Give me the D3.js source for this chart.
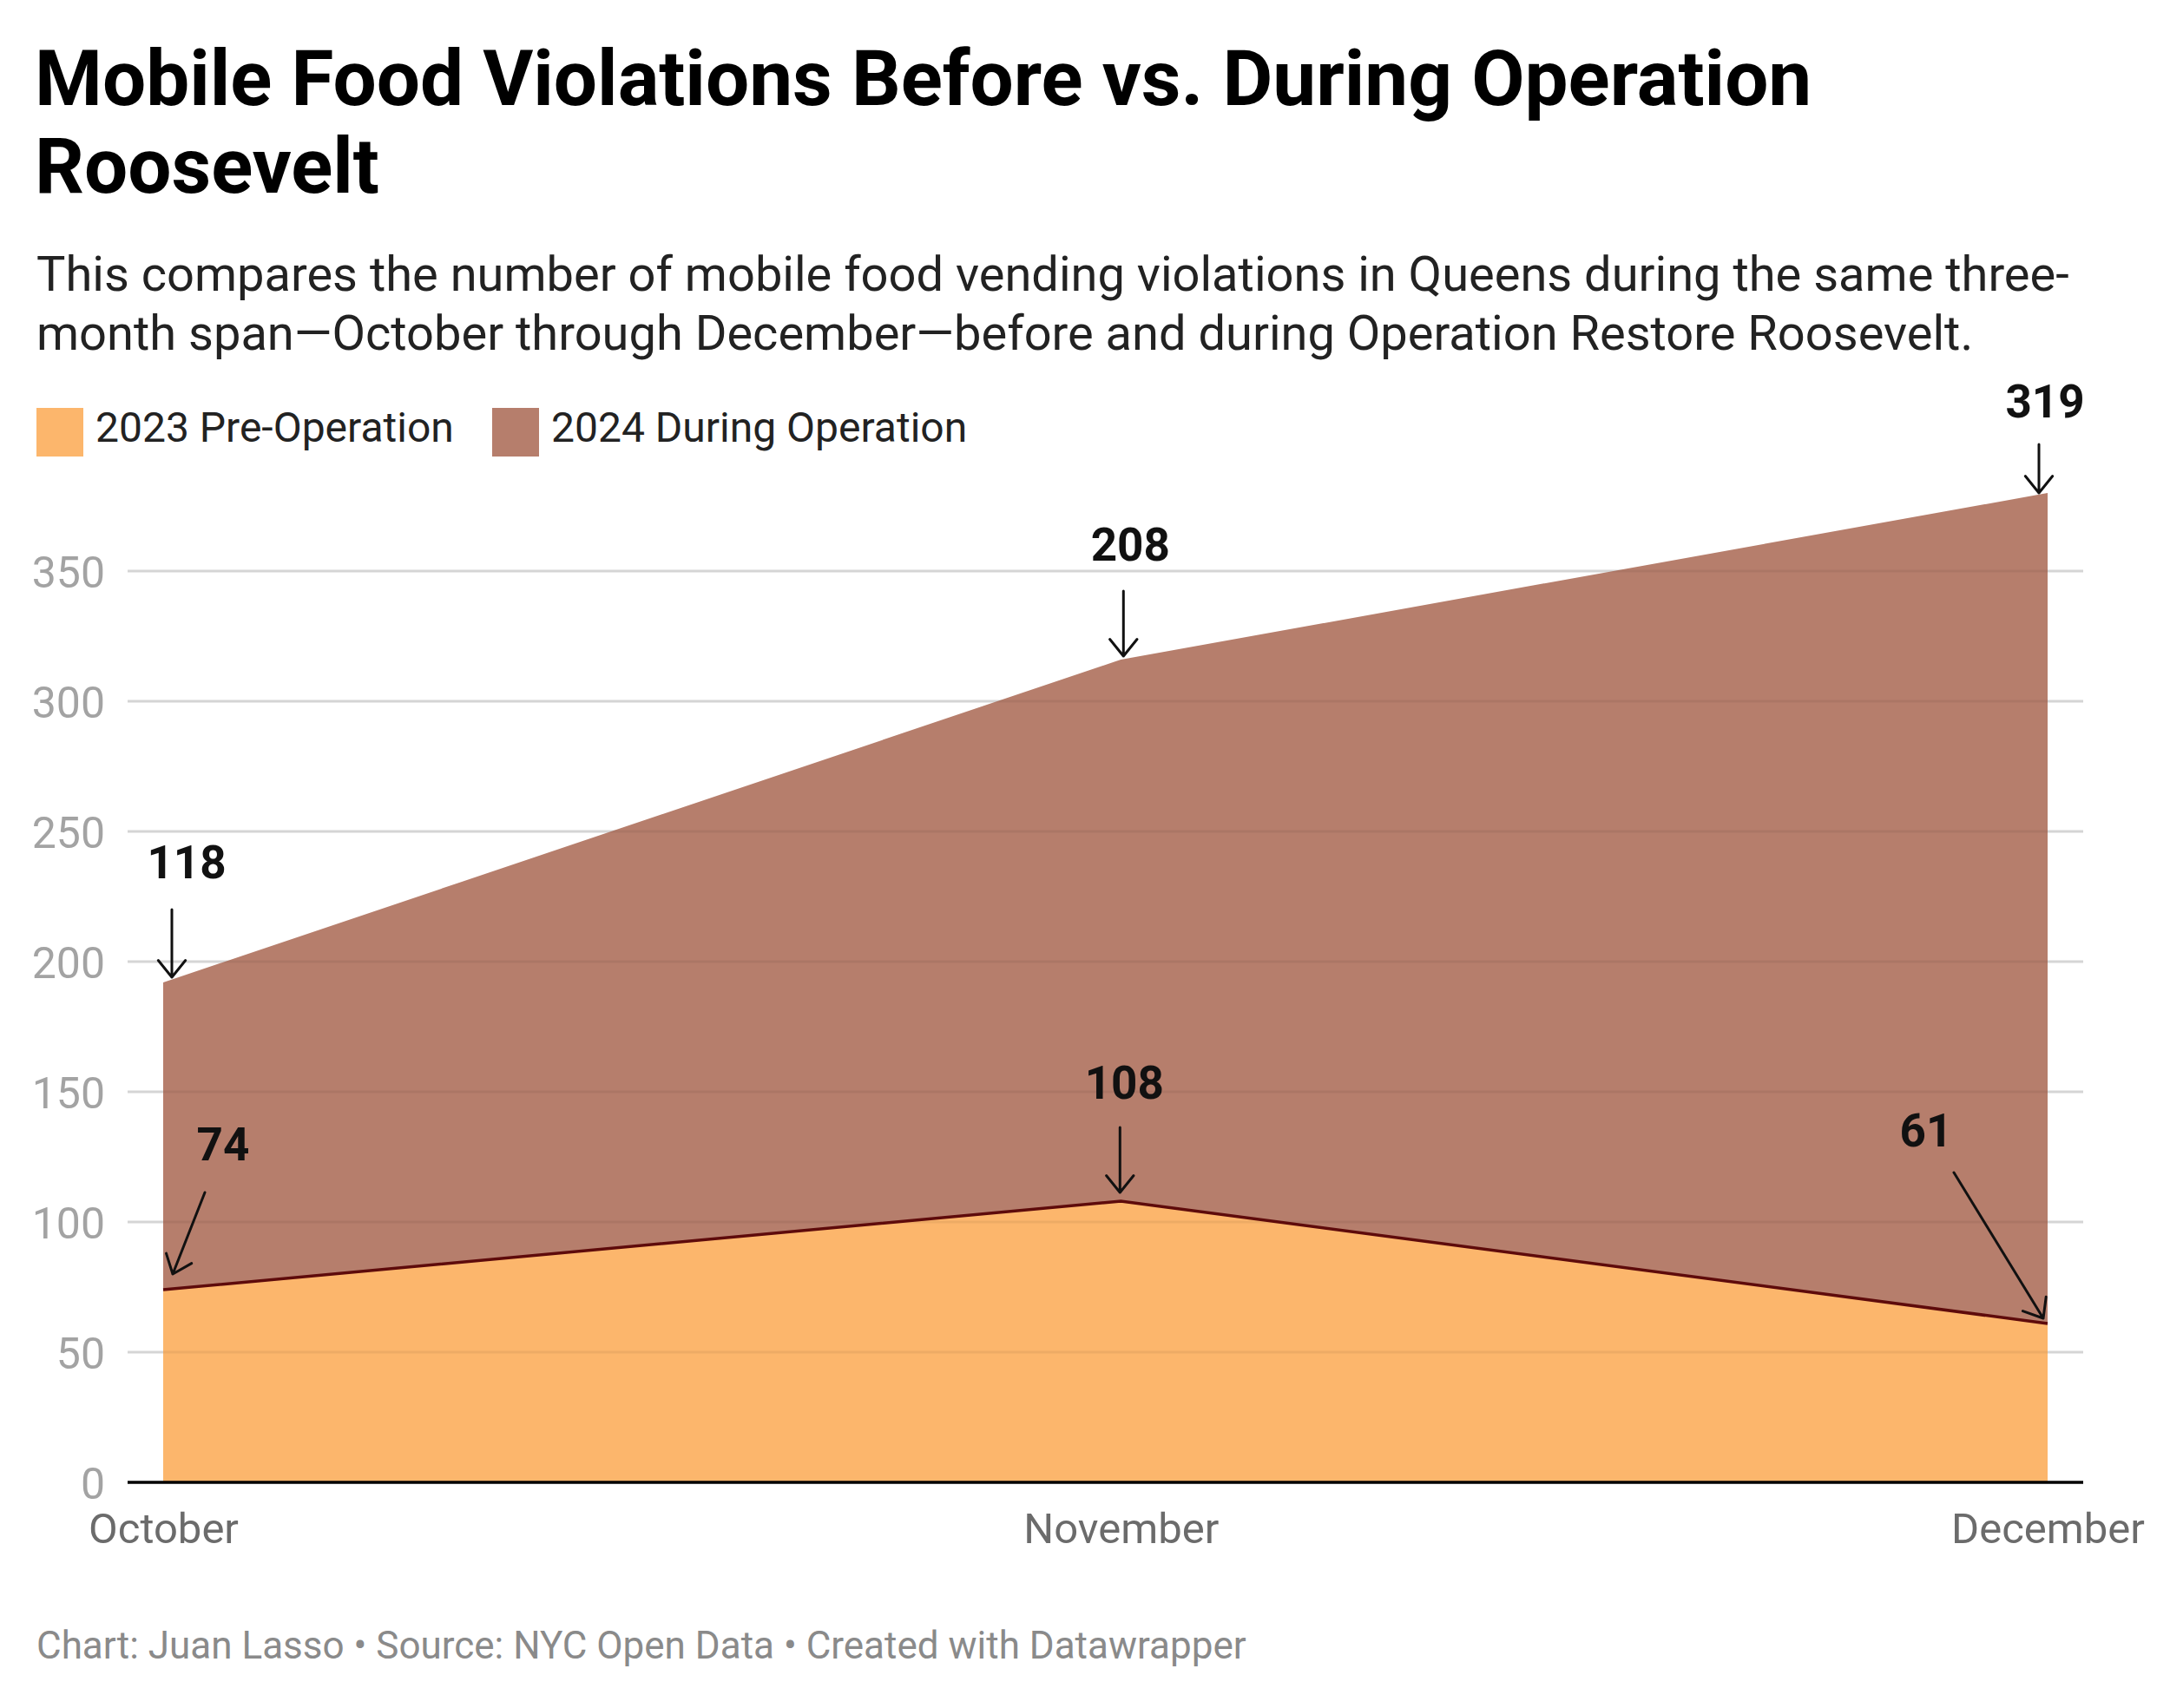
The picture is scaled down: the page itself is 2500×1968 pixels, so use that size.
<!DOCTYPE html>
<html><head><meta charset="utf-8">
<script src="https://cdn.jsdelivr.net/npm/d3@7"></script>
<style>
html,body{margin:0;padding:0;background:#fff;}
svg text{font-family:Roboto,"Noto Sans",sans-serif;}
</style></head>
<body>
<svg id="c" width="2500" height="1968"></svg>
<script>
// ---- data ----
const months = ["October", "November", "December"];
const monthDates = ["2024-10-01", "2024-11-01", "2024-12-01"];
const series2023 = [74, 108, 61];
const series2024 = [118, 208, 319];
const seriesNames = ["2023 Pre-Operation", "2024 During Operation"];
const yTicks = [0, 50, 100, 150, 200, 250, 300, 350];

// ---- layout / style ----
const colors = ["#fcb66c", "#b67e6c"];
const svg = d3.select("#c");
const parse = d3.timeParse("%Y-%m-%d");
const dates = monthDates.map(parse);

const x = d3.scaleTime().domain([dates[0], dates[2]]).range([188, 2359]);
const y = d3.scaleLinear().domain([0, 350]).range([1708, 658]);

// title
svg.append("text").attr("x", 40).attr("y", 121).attr("font-size", 89).attr("font-weight", 700).attr("fill", "#000")
  .text("Mobile Food Violations Before vs. During Operation");
svg.append("text").attr("x", 40).attr("y", 222).attr("font-size", 89).attr("font-weight", 700).attr("fill", "#000")
  .text("Roosevelt");
// subtitle
svg.append("text").attr("x", 42).attr("y", 335).attr("font-size", 56).attr("fill", "#222")
  .text("This compares the number of mobile food vending violations in Queens during the same three-");
svg.append("text").attr("x", 42).attr("y", 403).attr("font-size", 56).attr("fill", "#222")
  .text("month span\u2014October through December\u2014before and during Operation Restore Roosevelt.");

// legend
const legX = [42, 567];
seriesNames.forEach((n, i) => {
  svg.append("rect").attr("x", legX[i]).attr("y", 470).attr("width", 54).attr("height", 56).attr("fill", colors[i]);
  svg.append("text").attr("x", legX[i] + 68).attr("y", 509).attr("font-size", 48).attr("fill", "#222").text(n);
});

// stacked data
const table = dates.map((d, i) => ({date: d, a: series2023[i], b: series2024[i]}));
const stack = d3.stack().keys(["a", "b"])(table);

// gridlines under
svg.append("g").selectAll("line").data(yTicks.filter(t => t > 0)).join("line")
  .attr("x1", 147).attr("x2", 2400).attr("y1", d => y(d)).attr("y2", d => y(d))
  .attr("stroke", "#e3e3e3").attr("stroke-width", 3);

// areas
const area = d3.area().x(d => x(d.data.date)).y0(d => y(d[0])).y1(d => y(d[1]));
svg.append("g").selectAll("path").data(stack).join("path")
  .attr("d", area).attr("fill", (d, i) => colors[i]);

// gridlines over (subtle)
svg.append("g").selectAll("line").data(yTicks.filter(t => t > 0)).join("line")
  .attr("x1", 147).attr("x2", 2400).attr("y1", d => y(d)).attr("y2", d => y(d))
  .attr("stroke", "rgba(0,0,0,0.06)").attr("stroke-width", 3);

// dividing line on top of 2023 series
const line = d3.line().x(d => x(d.data.date)).y(d => y(d[1]));
svg.append("path").attr("d", line(stack[0])).attr("fill", "none").attr("stroke", "#5e0b0b").attr("stroke-width", 3.5);

// y axis labels
const yAxis = d3.axisLeft(y).tickValues(yTicks).tickSize(0).tickPadding(0);
const yg = svg.append("g").attr("transform", "translate(121,0)").call(yAxis);
yg.select(".domain").remove();
yg.selectAll("text").attr("font-size", 50).attr("fill", "#a3a3a3").attr("font-family", "Roboto").attr("dy", "0.36em");

// x axis baseline
svg.append("line").attr("x1", 147).attr("x2", 2400).attr("y1", y(0)).attr("y2", y(0))
  .attr("stroke", "#000").attr("stroke-width", 3.5);

// x axis labels
const xAxis = d3.axisBottom(x).tickValues(dates).tickSize(0).tickPadding(0)
  .tickFormat((d, i) => months[i]);
const xg = svg.append("g").attr("transform", `translate(0,${y(0)})`).call(xAxis);
xg.select(".domain").remove();
xg.selectAll("text").attr("font-size", 49).attr("fill", "#6b6b6b").attr("font-family", "Roboto").attr("dy", 70);

// annotations: [series index, point index], label offset, arrow start/end offsets
const annLayout = [
  {s: 1, i: 0, tx: 27, ty: -120, a: [10, -84, 10, -6]},
  {s: 0, i: 0, tx: 69, ty: -149, a: [48, -112, 11, -18]},
  {s: 1, i: 1, tx: 11, ty: -114, a: [3, -79, 3, -4]},
  {s: 0, i: 1, tx: 4, ty: -118, a: [-1, -85, -1, -10]},
  {s: 1, i: 2, tx: -3, ty: -87, a: [-10, -56, -10, 0]},
  {s: 0, i: 2, tx: -140, ty: -204, a: [-108, -174, -5, -6]}
];
const seriesVals = [series2023, series2024];
const annG = svg.append("g");
annLayout.forEach(an => {
  const pt = stack[an.s][an.i];
  const px = x(pt.data.date), py = y(pt[1]);
  annG.append("text").attr("x", px + an.tx).attr("y", py + an.ty).attr("text-anchor", "middle")
    .attr("font-size", 53).attr("font-weight", 700).attr("fill", "#111")
    .text(seriesVals[an.s][an.i]);
  const x1 = px + an.a[0], y1 = py + an.a[1], x2 = px + an.a[2], y2 = py + an.a[3];
  const ang = Math.atan2(y2 - y1, x2 - x1);
  const L = 25, spread = 0.68;
  const hx1 = x2 - L * Math.cos(ang - spread), hy1 = y2 - L * Math.sin(ang - spread);
  const hx2 = x2 - L * Math.cos(ang + spread), hy2 = y2 - L * Math.sin(ang + spread);
  annG.append("path").attr("d", `M${x1},${y1}L${x2},${y2}M${hx1},${hy1}L${x2},${y2}L${hx2},${hy2}`)
    .attr("fill", "none").attr("stroke", "#111").attr("stroke-width", 3).attr("stroke-linecap", "round").attr("stroke-linejoin", "round");
});

// footer
svg.append("text").attr("x", 42).attr("y", 1911).attr("font-size", 44).attr("fill", "#8a8a8a")
  .text("Chart: Juan Lasso \u2022 Source: NYC Open Data \u2022 Created with Datawrapper");
</script>
</body></html>
